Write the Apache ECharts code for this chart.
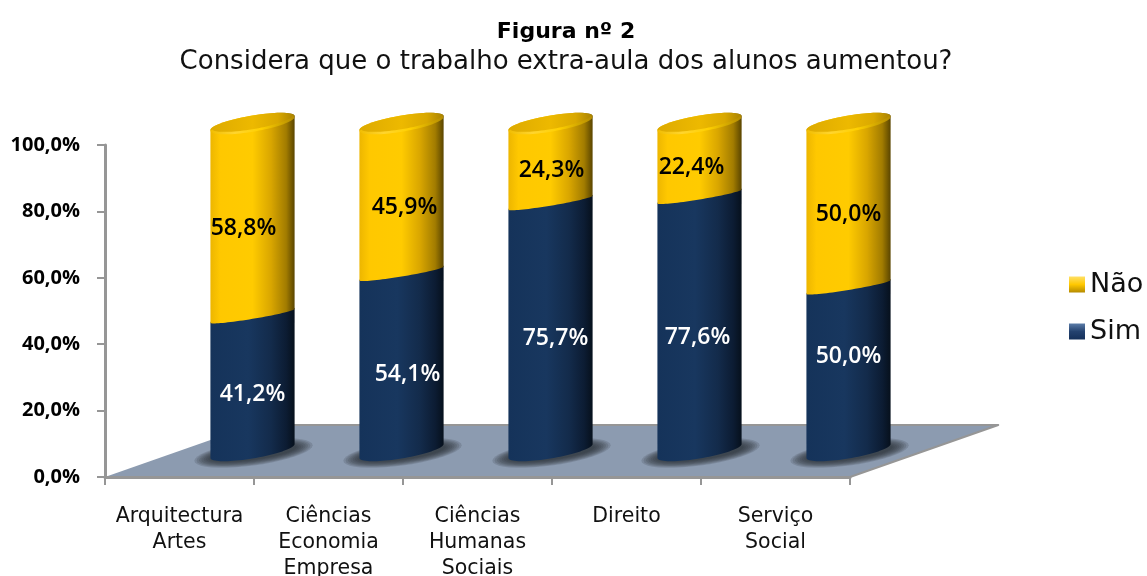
<!DOCTYPE html>
<html><head><meta charset="utf-8">
<script src="https://cdn.jsdelivr.net/npm/echarts@6/dist/echarts.min.js"></script>
<style>html,body{margin:0;padding:0;background:#fff}#c{width:1147px;height:576px}</style>
</head><body><div id="c"></div>
<script>
const categories = ['Arquitectura\nArtes', 'Ciências\nEconomia\nEmpresa', 'Ciências\nHumanas\nSociais', 'Direito', 'Serviço\nSocial'];
const simValues = [41.2, 54.1, 75.7, 77.6, 50.0];
const naoValues = [58.8, 45.9, 24.3, 22.4, 50.0];
const seriesNames = ['Sim', 'Não'];
const yTicks = { min: 0, max: 100, interval: 20 };

// presentation only: manual label nudges seen in the picture (px)
const simNudge = [[0, 11], [6, 12], [5, 12], [-2, 14], [0, -13]];
const naoNudge = [[-9, 9], [3, 9], [1, 8], [-8, 8], [0, 9]];

const DEPTH_X = 0.49, DEPTH_Y = 26, H_SCALE = 0.988, WIDTH = 0.565, SHEAR = 0.165, RY = 7.5, RY_JOIN = 3;
const fmt = v => v.toFixed(1).replace('.', ',') + '%';

function linear(stops) { return { type: 'linear', x: 0, y: 0, x2: 1, y2: 0, colorStops: stops.map(s => ({ offset: s[0], color: s[1] })) }; }
const yellow = linear([[0, '#EDB600'], [0.12, '#FFC800'], [0.5, '#FFCB00'], [0.72, '#D9A600'], [0.9, '#A27C00'], [1, '#5A4500']]);
const yellowCap = linear([[0, '#DDAA00'], [0.5, '#EDB900'], [0.8, '#D9A800'], [1, '#A98200']]);
const yellowRim = linear([[0, '#F0BC00'], [0.3, '#FFD52E'], [0.6, '#FFD000'], [1, '#B08800']]);
const blue = linear([[0, '#15335A'], [0.45, '#18375F'], [0.72, '#132B4B'], [0.9, '#0C1C33'], [1, '#06101C']]);

function ell(cx, cy, r, ry, a0, a1, shear) {
  const s = shear === undefined ? SHEAR : shear;
  const pts = [];
  for (let i = 0; i <= 40; i++) {
    const t = a0 + (a1 - a0) * i / 40;
    const dx = r * Math.cos(t);
    pts.push([cx + dx, cy - s * dx + ry * Math.sin(t)]);
  }
  return pts;
}

function cylinder(isTop, nudges) {
  return function (params, api) {
    const i = api.value(0), start = api.value(1), val = api.value(2);
    const band = api.size([1, 0])[0];
    const y0 = api.coord([i, 0])[1];
    const yAt = v => y0 - DEPTH_Y - (y0 - api.coord([i, v])[1]) * H_SCALE;
    const cx = api.coord([i, 0])[0] + DEPTH_X * band;
    const r = WIDTH * band / 2;
    const yb = yAt(start), yt = yAt(start + val);
    const children = [];
    if (!isTop) {
      for (let k = 7; k >= 0; k--) {
        children.push({
          type: 'polygon', shape: { points: ell(cx + 1, yb + 2, r * (1.02 + 0.055 * k), RY * (0.9 + 0.11 * k), 0, Math.PI * 2, SHEAR * 0.8) },
          style: { fill: 'rgba(40,45,55,0.17)' }
        });
      }
    }
    const body = ell(cx, yb, r, isTop ? RY_JOIN : RY, 0, Math.PI).concat(ell(cx, yt, r, RY, Math.PI, Math.PI * 2));
    children.push({ type: 'polygon', shape: { points: body }, style: { fill: isTop ? yellow : blue } });
    if (isTop) {
      children.push({ type: 'polygon', shape: { points: ell(cx, yt, r, RY, 0, Math.PI * 2) }, style: { fill: yellowCap } });
      children.push({ type: 'polyline', shape: { points: ell(cx, yt, r - 1, RY, 0.05, Math.PI - 0.05) }, style: { fill: 'none', stroke: yellowRim, lineWidth: 2.5 } });
    }
    const n = nudges[i];
    children.push({
      type: 'text', z2: 10,
      style: {
        x: cx + n[0], y: (yb + yt) / 2 + n[1], text: fmt(val), textAlign: 'center', textVerticalAlign: 'middle',
        fill: isTop ? '#000' : '#fff', font: '600 23px "Open Sans", sans-serif'
      }
    });
    return { type: 'group', children };
  };
}

function floor(params, api) {
  const cs = params.coordSys;
  const band = api.size([1, 0])[0];
  const dx = band * 0.995, top = cs.y + cs.height - 52;
  const l = cs.x, r = cs.x + cs.width, b = cs.y + cs.height;
  return { type: 'group', children: [
    { type: 'polygon', shape: { points: [[l, b], [r, b], [r + dx, top], [l + dx, top]] }, style: { fill: '#8C9BB0' } },
    { type: 'polyline', shape: { points: [[l + dx, top], [r + dx, top], [r, b]] }, style: { fill: 'none', stroke: '#969696', lineWidth: 2, lineJoin: 'round' } }
  ] };
}

const chart = echarts.init(document.getElementById('c'));
chart.setOption({
  animation: false,
  backgroundColor: '#fff',
  title: {
    text: 'Figura nº 2', subtext: 'Considera que o trabalho extra-aula dos alunos aumentou?',
    left: 561, top: 12, textAlign: 'center', itemGap: 0,
    textStyle: { fontFamily: '"DejaVu Sans", sans-serif', fontWeight: 'bold', fontSize: 22, color: '#000', lineHeight: 30 },
    subtextStyle: { fontFamily: '"DejaVu Sans", sans-serif', fontSize: 26, color: '#111', lineHeight: 30 }
  },
  legend: {
    data: ['Não', 'Sim'], orient: 'vertical', left: 1064, top: 266, itemWidth: 16, itemHeight: 16, itemGap: 20,
    icon: 'rect',
    textStyle: { fontFamily: '"DejaVu Sans", sans-serif', fontSize: 27, color: '#111' }
  },
  grid: { left: 105, top: 145, width: 745, height: 332, containLabel: false, outerBoundsMode: 'none' },
  xAxis: {
    type: 'category', data: categories, z: 5,
    axisLine: { lineStyle: { color: '#969696', width: 3 } },
    axisTick: { show: true, alignWithLabel: false, length: 8, lineStyle: { color: '#969696', width: 2 } },
    axisLabel: { margin: 27, interval: 0, color: '#111', fontSize: 20.5, lineHeight: 26, fontFamily: '"DejaVu Sans", sans-serif', verticalAlign: 'top' }
  },
  yAxis: {
    type: 'value', min: yTicks.min, max: yTicks.max, interval: yTicks.interval, z: 5,
    splitLine: { show: false },
    axisLine: { show: true, lineStyle: { color: '#969696', width: 3 } },
    axisTick: { show: true, length: 8, lineStyle: { color: '#969696', width: 2 } },
    axisLabel: { margin: 25, color: '#000', fontSize: 20, fontWeight: 'bold', fontFamily: '"Open Sans", sans-serif', padding: [7, 0, 0, 0], formatter: v => fmt(v) }
  },
  series: [
    { type: 'custom', name: 'floor', z: 1, silent: true, renderItem: floor, data: [[0, 0]], clip: false },
    { type: 'custom', name: seriesNames[0], z: 3, renderItem: cylinder(false, simNudge), clip: false,
      itemStyle: { color: { type: 'linear', x: 0, y: 0, x2: 0, y2: 1, colorStops: [{ offset: 0, color: '#5B7CA8' }, { offset: 0.5, color: '#24426F' }, { offset: 1, color: '#15305A' }] } },
      encode: { x: 0, y: 2 }, data: simValues.map((v, i) => [i, 0, v]) },
    { type: 'custom', name: seriesNames[1], z: 4, renderItem: cylinder(true, naoNudge), clip: false,
      itemStyle: { color: { type: 'linear', x: 0, y: 0, x2: 0, y2: 1, colorStops: [{ offset: 0, color: '#FFE066' }, { offset: 0.5, color: '#FFC800' }, { offset: 1, color: '#B58A00' }] } },
      encode: { x: 0, y: 2 }, data: naoValues.map((v, i) => [i, simValues[i], v]) }
  ]
});
</script></body></html>
